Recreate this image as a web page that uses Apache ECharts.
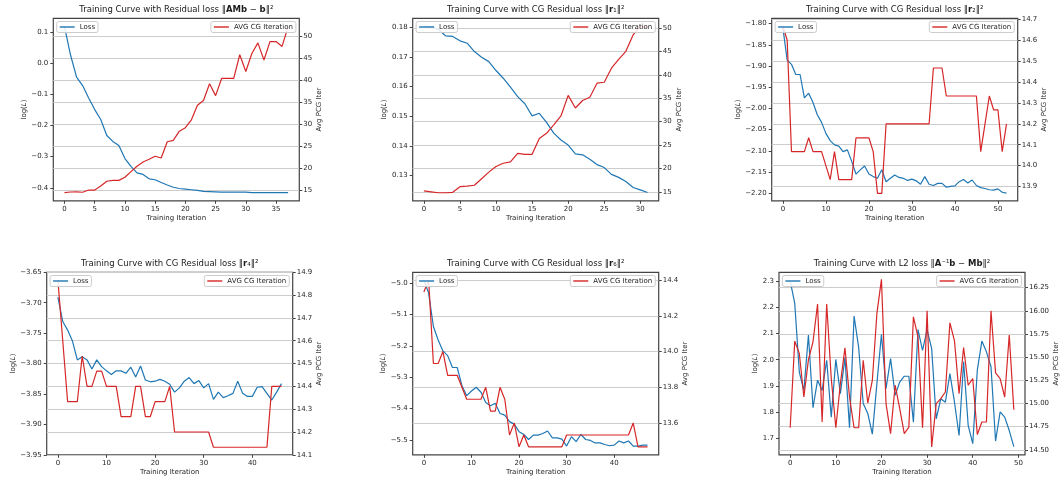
<!DOCTYPE html>
<html><head><meta charset="utf-8">
<script src="https://cdn.jsdelivr.net/npm/echarts@6/dist/echarts.min.js"></script>
<style>html,body{margin:0;padding:0;background:#fff}#c{width:1060px;height:481px}</style>
</head><body><div id="c"></div>
<script>
// ---------------- data ----------------
const lossAMb = [0.117,0.026,-0.045,-0.072,-0.112,-0.149,-0.181,-0.232,-0.251,-0.264,
  -0.306,-0.331,-0.352,-0.357,-0.371,-0.374,-0.383,-0.391,-0.398,-0.402,
  -0.404,-0.406,-0.408,-0.411,-0.412,-0.413,-0.414,-0.414,-0.414,-0.414,
  -0.414,-0.415,-0.415,-0.415,-0.415,-0.415,-0.415,-0.415];
const cgAMb = [14.4,14.55,14.6,14.5,15.0,15.0,15.9,17.0,17.2,17.2,
  17.9,19.2,20.4,21.4,22.0,22.7,22.3,26.0,26.3,28.4,
  29.2,31.0,34.3,35.4,39.2,36.5,40.4,40.4,40.4,45.8,
  42.0,46.1,48.5,44.6,48.8,48.8,47.7,52.2];

const lossR1 = [0.1804,0.1802,0.1793,0.1771,0.1769,0.1754,0.1746,0.1718,0.1699,0.1684,
  0.1654,0.1628,0.1598,0.1566,0.1542,0.1501,0.1510,0.1479,0.1443,0.1420,
  0.1403,0.1373,0.1370,0.1355,0.1337,0.1327,0.1304,0.1294,0.1280,0.1260,
  0.1252,0.1243];
const cgR1 = [15.2,15.0,14.8,14.8,14.9,16.1,16.2,16.4,17.8,19.2,
  20.4,21.1,21.4,23.2,23.0,23.0,26.4,27.5,29.3,31.2,
  35.6,32.9,34.5,35.2,38.2,38.4,41.4,43.3,45.0,48.5,
  50.3,50.0];

const lossR2 = [-1.81,-1.886,-1.896,-1.920,-1.920,-1.975,-1.964,-1.986,-2.015,-2.033,
  -2.059,-2.076,-2.086,-2.089,-2.102,-2.098,-2.125,-2.155,-2.145,-2.136,
  -2.155,-2.161,-2.165,-2.145,-2.173,-2.165,-2.157,-2.163,-2.165,-2.170,
  -2.167,-2.171,-2.179,-2.161,-2.179,-2.182,-2.177,-2.177,-2.186,-2.184,
  -2.183,-2.173,-2.168,-2.176,-2.169,-2.182,-2.187,-2.189,-2.192,-2.193,
  -2.190,-2.198,-2.200];
const cgR2 = [14.667,14.6,14.067,14.067,14.067,14.067,14.133,14.067,14.067,14.067,
  14.0,13.933,14.067,13.933,13.933,13.933,13.933,14.133,14.133,14.133,
  14.133,14.067,13.867,13.867,14.2,14.2,14.2,14.2,14.2,14.2,
  14.2,14.2,14.2,14.2,14.2,14.467,14.467,14.467,14.333,14.333,
  14.333,14.333,14.333,14.333,14.333,14.333,14.067,14.2,14.333,14.267,
  14.267,14.067,14.2];

const lossR4 = [-3.691,-3.731,-3.745,-3.763,-3.794,-3.789,-3.794,-3.809,-3.794,-3.805,
  -3.812,-3.818,-3.812,-3.812,-3.816,-3.806,-3.822,-3.804,-3.827,-3.830,
  -3.829,-3.826,-3.829,-3.834,-3.847,-3.840,-3.829,-3.823,-3.833,-3.828,
  -3.840,-3.833,-3.859,-3.847,-3.856,-3.853,-3.849,-3.829,-3.849,-3.854,
  -3.854,-3.839,-3.838,-3.849,-3.860,-3.847,-3.833];
const cgR4 = [14.867,14.6,14.333,14.333,14.333,14.533,14.4,14.4,14.467,14.467,
  14.4,14.4,14.4,14.267,14.267,14.267,14.4,14.4,14.267,14.267,
  14.333,14.333,14.333,14.4,14.2,14.2,14.2,14.2,14.2,14.2,
  14.2,14.2,14.133,14.133,14.133,14.133,14.133,14.133,14.133,14.133,
  14.133,14.133,14.133,14.133,14.4,14.4,14.4];

const lossR6 = [-4.99,-5.031,-5.138,-5.181,-5.216,-5.231,-5.269,-5.269,-5.327,-5.359,
  -5.344,-5.332,-5.348,-5.381,-5.391,-5.383,-5.416,-5.421,-5.442,-5.450,
  -5.474,-5.483,-5.499,-5.485,-5.485,-5.480,-5.472,-5.494,-5.494,-5.498,
  -5.520,-5.490,-5.506,-5.483,-5.499,-5.502,-5.510,-5.510,-5.515,-5.519,
  -5.517,-5.504,-5.510,-5.504,-5.520,-5.520,-5.517,-5.517];
const cgR6 = [14.333,14.4,13.933,13.933,14.0,13.867,13.867,13.867,13.8,13.733,
  13.733,13.733,13.733,13.8,13.667,13.667,13.8,13.733,13.533,13.6,
  13.467,13.533,13.467,13.467,13.467,13.467,13.467,13.467,13.467,13.467,
  13.533,13.533,13.533,13.533,13.533,13.533,13.533,13.533,13.533,13.533,
  13.533,13.533,13.533,13.533,13.6,13.467,13.467,13.467];

const lossL2 = [2.30,2.215,1.953,1.883,2.094,1.817,1.922,1.883,1.998,1.781,
  2.001,1.871,2.008,1.741,2.166,2.047,1.833,1.795,1.716,1.909,
  2.097,1.890,2.004,1.864,1.915,1.937,1.937,1.762,2.115,2.036,
  2.115,2.042,1.775,1.851,1.838,1.947,1.838,1.711,1.992,1.750,
  1.680,1.960,2.071,2.030,1.973,1.690,1.801,1.781,1.730,1.669];
const cgL2 = [14.738,15.673,15.539,15.070,15.474,15.666,16.073,14.800,16.073,15.269,
  14.738,15.215,15.601,15.070,14.738,14.738,15.467,15.005,15.250,15.972,
  16.34,14.998,14.674,15.197,14.944,14.674,14.745,15.936,15.72,14.738,
  16.0,14.53,14.998,15.052,15.124,15.871,15.676,15.106,15.604,15.197,
  15.269,14.666,14.800,14.800,16.0,15.330,15.269,15.070,15.74,14.933];

// tick labels
const xTicks1 = ['0','5','10','15','20','25','30','35'];
const xTicks2 = ['0','5','10','15','20','25','30'];
const xTicks3 = ['0','10','20','30','40','50'];
const xTicks4 = ['0','10','20','30','40'];
const xTicks5 = ['0','10','20','30','40'];
const xTicks6 = ['0','10','20','30','40','50'];
const lTicks1 = ['\u22120.4','\u22120.3','\u22120.2','\u22120.1','0.0','0.1'];
const lTicks2 = ['0.13','0.14','0.15','0.16','0.17','0.18'];
const lTicks3 = ['\u22122.20','\u22122.15','\u22122.10','\u22122.05','\u22122.00','\u22121.95','\u22121.90','\u22121.85','\u22121.80'];
const lTicks4 = ['\u22123.95','\u22123.90','\u22123.85','\u22123.80','\u22123.75','\u22123.70','\u22123.65'];
const lTicks5 = ['\u22125.5','\u22125.4','\u22125.3','\u22125.2','\u22125.1','\u22125.0'];
const lTicks6 = ['1.7','1.8','1.9','2.0','2.1','2.2','2.3'];
const rTicks1 = ['15','20','25','30','35','40','45','50'];
const rTicks2 = ['15','20','25','30','35','40','45','50'];
const rTicks3 = ['13.9','14.0','14.1','14.2','14.3','14.4','14.5','14.6','14.7'];
const rTicks4 = ['14.1','14.2','14.3','14.4','14.5','14.6','14.7','14.8','14.9'];
const rTicks5 = ['13.6','13.8','14.0','14.2','14.4'];
const rTicks6 = ['14.50','14.75','15.00','15.25','15.50','15.75','16.00','16.25'];

const titles = [
  '{n|Training Curve with Residual loss \u2016}{b|AMb}{n| \u2212 }{b|b}{n|\u2016\u00b2}',
  '{n|Training Curve with CG Residual loss \u2016}{b|r}{n|\u2081\u2016\u00b2}',
  '{n|Training Curve with CG Residual loss \u2016}{b|r}{n|\u2082\u2016\u00b2}',
  '{n|Training Curve with CG Residual loss \u2016}{b|r}{n|\u2084\u2016\u00b2}',
  '{n|Training Curve with CG Residual loss \u2016}{b|r}{n|\u2086\u2016\u00b2}',
  '{n|Training Curve with L2 loss \u2016}{b|A}{n|\u207b\u00b9}{b|b}{n| \u2212 }{b|Mb}{n|\u2016\u00b2}'
];

// ---------------- layout ----------------
const panels = [
  {loss:lossAMb, cg:cgAMb, xt:xTicks1, lt:lTicks1, rt:rTicks1, g:[53.3,18.3], xr:[-1.85,38.85], lr:[-0.4415,0.1437], rr:[12.55,54.1], lg:25.5, rg:15.7},
  {loss:lossR1, cg:cgR1, xt:xTicks2, lt:lTicks2, rt:rTicks2, g:[412.7,18.3], xr:[-1.55,32.55], lr:[0.1215,0.1830], rr:[13.08,52.06], lg:25.5, rg:16.7},
  {loss:lossR2, cg:cgR2, xt:xTicks3, lt:lTicks3, rt:rTicks3, g:[771.7,18.3], xr:[-2.6,54.6], lr:[-2.2181,-1.7874], rr:[13.8315,14.7048], lg:28.5, rg:22.7},
  {loss:lossR4, cg:cgR4, xt:xTicks4, lt:lTicks4, rt:rTicks4, g:[46.7,272.3], xr:[-2.3,48.3], lr:[-3.95,-3.65], rr:[14.1,14.9], lg:30, rg:21.7},
  {loss:lossR6, cg:cgR6, xt:xTicks5, lt:lTicks5, rt:rTicks5, g:[412.7,272.3], xr:[-2.35,49.35], lr:[-5.548,-4.9647], rr:[13.4224,14.443], lg:25.5, rg:21.7},
  {loss:lossL2, cg:cgL2, xt:xTicks6, lt:lTicks6, rt:rTicks6, g:[779,272.3], xr:[-2.45,51.45], lr:[1.6376,2.3331], rr:[14.446,16.416], lg:20, rg:26}
];
const GW = 246, GH = 182.5;
const BLUE = '#1f77b4', RED = '#d62728';
const TXT = '#262626', SPINE = '#444444', GRIDC = '#cdcdcd';
const FS = 7;

function vals(labels){ return labels.map(s => parseFloat(s.replace('\u2212','-'))); }
function fmt(labels){
  const v = vals(labels);
  return x => { for (let i=0;i<v.length;i++) if (Math.abs(v[i]-x) < 1e-6) return labels[i]; return ''; };
}

const grid=[], xAxis=[], yAxis=[], series=[], legend=[], graphic=[];
panels.forEach((p,k) => {
  grid.push({left:p.g[0], top:p.g[1], width:GW, height:GH, containLabel:false, outerBoundsMode:'none',
    show:true, borderColor:SPINE, borderWidth:1.2, backgroundColor:'transparent'});
  const tickStyle = {show:true, length:3, inside:false, lineStyle:{color:SPINE, width:1}};
  xAxis.push({type:'value', gridIndex:k, min:p.xr[0], max:p.xr[1],
    axisLine:{show:false, onZero:false},
    axisTick:Object.assign({customValues:vals(p.xt)}, tickStyle),
    axisLabel:{customValues:vals(p.xt), formatter:fmt(p.xt), fontSize:FS, color:TXT, margin:5, showMinLabel:true, showMaxLabel:true},
    splitLine:{show:false},
    name:'Training Iteration', nameLocation:'middle', nameGap:13.5, nameTextStyle:{fontSize:FS, color:TXT}});
  yAxis.push({type:'value', gridIndex:k, position:'left', min:p.lr[0], max:p.lr[1],
    axisLine:{show:false, onZero:false},
    axisTick:Object.assign({customValues:vals(p.lt)}, tickStyle),
    axisLabel:{customValues:vals(p.lt), formatter:fmt(p.lt), fontSize:FS, color:TXT, margin:5, showMinLabel:true, showMaxLabel:true},
    splitLine:{show:false},
    name:'{a|log(}{i|L}{a|)}', nameLocation:'middle', nameGap:p.lg, nameRotate:90,
    nameTextStyle:{fontSize:FS, color:TXT, rich:{a:{fontSize:FS,color:TXT}, i:{fontSize:FS,color:TXT,fontStyle:'italic'}}}});
  yAxis.push({type:'value', gridIndex:k, position:'right', min:p.rr[0], max:p.rr[1],
    axisLine:{show:false, onZero:false},
    axisTick:Object.assign({customValues:vals(p.rt)}, tickStyle),
    axisLabel:{customValues:vals(p.rt), formatter:fmt(p.rt), fontSize:FS, color:TXT, margin:4, showMinLabel:true, showMaxLabel:true},
    splitLine:{show:true, lineStyle:{color:GRIDC, width:1.1}},
    name:'Avg PCG Iter', nameLocation:'middle', nameGap:p.rg, nameRotate:90,
    nameTextStyle:{fontSize:FS, color:TXT}});
  series.push({type:'line', name:'Loss', xAxisIndex:k, yAxisIndex:2*k,
    data:p.loss.map((v,i)=>[i,v]), showSymbol:false, symbol:'none', animation:false, silent:true,
    lineStyle:{color:BLUE, width:1.2}, itemStyle:{color:BLUE}, z:2});
  series.push({type:'line', name:'AVG CG Iteration', xAxisIndex:k, yAxisIndex:2*k+1,
    data:p.cg.map((v,i)=>[i,v]), showSymbol:false, symbol:'none', animation:false, silent:true,
    lineStyle:{color:RED, width:1.2}, itemStyle:{color:RED}, z:3});
  const lgCommon = {orient:'horizontal', selectedMode:false, icon:'rect', itemWidth:15, itemHeight:1.4,
    padding:[2,3,2,3], backgroundColor:'rgba(255,255,255,0.85)', borderColor:'#cccccc', borderWidth:1, borderRadius:2,
    textStyle:{fontSize:FS, color:TXT}, z:10};
  legend.push(Object.assign({data:['Loss'], left:p.g[0]+3.4, top:p.g[1]+3.2}, lgCommon));
  legend.push(Object.assign({data:['AVG CG Iteration'], right:1060-(p.g[0]+GW-3.4), top:p.g[1]+3.2}, lgCommon));
  graphic.push({type:'text', x:p.g[0]+GW/2, y:p.g[1]-9, silent:true,
    style:{text:titles[k], align:'center', verticalAlign:'middle',
      rich:{n:{fontSize:8.5, fill:'#1a1a1a', fontFamily:'DejaVu Sans'}, b:{fontSize:8.5, fill:'#1a1a1a', fontWeight:'bold', fontFamily:'DejaVu Sans'}}}});
});

const chart = echarts.init(document.getElementById('c'), null, {renderer:'canvas'});
chart.setOption({
  animation:false,
  backgroundColor:'#ffffff',
  textStyle:{fontFamily:'DejaVu Sans'},
  grid, xAxis, yAxis, series, legend, graphic
});
</script></body></html>
